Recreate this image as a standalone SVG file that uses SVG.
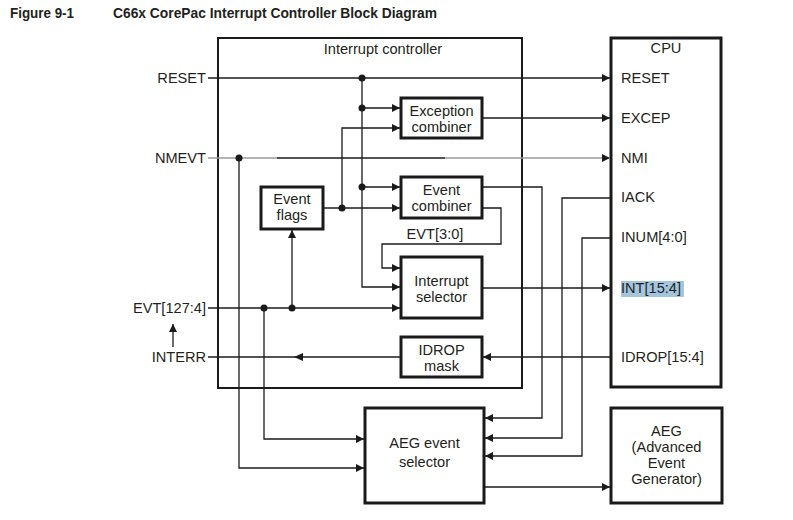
<svg xmlns="http://www.w3.org/2000/svg" width="793" height="520" viewBox="0 0 793 520">
<defs>
<marker id="arr" viewBox="0 0 10 10" refX="10" refY="5" markerWidth="9" markerHeight="8" orient="auto" markerUnits="userSpaceOnUse"><path d="M0,0 L10,5 L0,10 z" fill="#1a1a1a"/></marker>
</defs>
<style>
.t{font-family:"Liberation Sans",Arial,sans-serif;font-size:14.6px;fill:#231f20}
.c{text-anchor:middle}
.r{text-anchor:end}
.title{font-family:"Liberation Sans",Arial,sans-serif;font-size:14px;font-weight:bold;fill:#231f20}
.outer{fill:none;stroke:#1a1a1a;stroke-width:2}
.blk{fill:#fff;stroke:#1a1a1a;stroke-width:3}
.ln{fill:none;stroke:#1a1a1a;stroke-width:1.3}
.ln.a{marker-end:url(#arr)}
.dot{fill:#1a1a1a}
</style>
<rect width="793" height="520" fill="#fff"/>
<text class="title" x="10" y="18" textLength="64" lengthAdjust="spacingAndGlyphs">Figure 9-1</text>
<text class="title" x="113" y="18" textLength="324" lengthAdjust="spacingAndGlyphs">C66x CorePac Interrupt Controller Block Diagram</text>

<g id="interrupt-controller">
<rect class="outer" x="218" y="38" width="304" height="350"/>
<text class="t c" x="383" y="54">Interrupt controller</text>
</g>
<g id="cpu">
<rect class="outer" x="611" y="38" width="110" height="349" style="stroke-width:3"/>
<text class="t c" x="666" y="53">CPU</text>
<text class="t" x="621" y="83">RESET</text>
<text class="t" x="621" y="123">EXCEP</text>
<text class="t" x="621" y="163">NMI</text>
<text class="t" x="621" y="202">IACK</text>
<text class="t" x="621" y="242">INUM[4:0]</text>
<rect x="621" y="281" width="63" height="16" fill="#a3c5de"/>
<text class="t" x="621" y="293">INT[15:4]</text>
<text class="t" x="621" y="362">IDROP[15:4]</text>
</g>
<g id="exception-combiner">
<rect class="blk" x="401" y="98" width="81" height="40"/>
<text class="t c" x="441.5" y="116">Exception</text>
<text class="t c" x="441.5" y="132">combiner</text>
</g>
<g id="event-combiner">
<rect class="blk" x="401" y="177" width="81" height="41"/>
<text class="t c" x="441.5" y="195">Event</text>
<text class="t c" x="441.5" y="211">combiner</text>
</g>
<g id="event-flags">
<rect class="blk" x="261" y="187" width="62" height="42"/>
<text class="t c" x="292" y="204">Event</text>
<text class="t c" x="292" y="220">flags</text>
</g>
<g id="interrupt-selector">
<rect class="blk" x="401" y="257" width="81" height="61"/>
<text class="t c" x="441.5" y="286">Interrupt</text>
<text class="t c" x="441.5" y="302">selector</text>
</g>
<g id="idrop-mask">
<rect class="blk" x="401" y="337" width="81" height="40"/>
<text class="t c" x="441.5" y="355">IDROP</text>
<text class="t c" x="441.5" y="371">mask</text>
</g>
<g id="aeg-event-selector">
<rect class="blk" x="365" y="408" width="119" height="95"/>
<text class="t c" x="424.5" y="448">AEG event</text>
<text class="t c" x="424.5" y="467">selector</text>
</g>
<g id="aeg">
<rect class="blk" x="611" y="408" width="111" height="95"/>
<text class="t c" x="666.5" y="436">AEG</text>
<text class="t c" x="666.5" y="452">(Advanced</text>
<text class="t c" x="666.5" y="468">Event</text>
<text class="t c" x="666.5" y="484">Generator)</text>
</g>
<g id="signal-labels">
<text class="t r" x="206" y="83">RESET</text>
<text class="t r" x="206" y="163">NMEVT</text>
<text class="t r" x="206" y="313">EVT[127:4]</text>
<text class="t r" x="206" y="362">INTERR</text>
<text class="t c" x="435" y="239">EVT[3:0]</text>
</g>
<g id="connectors">
<path class="ln a" d="M208,78 H610"/>
<path class="ln a" d="M362,78 V287 H400"/>
<path class="ln a" d="M362,108 H400"/>
<path class="ln a" d="M362,187 H400"/>
<path class="ln a" d="M342,208 V128 H400"/>
<path class="ln a" d="M323,208 H400"/>
<path class="ln" d="M208,158 H277" style="stroke:#9a9a9a"/>
<path class="ln" d="M277,158 H445"/>
<path class="ln a" d="M445,158 H610" style="stroke:#9a9a9a"/>
<path class="ln a" d="M239,158 V468 H364"/>
<path class="ln a" d="M208,308 H400"/>
<path class="ln a" d="M292,308 V230"/>
<path class="ln a" d="M264,308 V439 H364"/>
<path class="ln" d="M401,357 H208"/>
<path d="M294,357 L303,353 L303,361 z" fill="#1a1a1a"/>
<path class="ln a" d="M611,357 H483"/>
<path class="ln a" d="M173,347 V324"/>
<path class="ln a" d="M482,118 H610"/>
<path class="ln a" d="M482,288 H610"/>
<path class="ln a" d="M482,187 H542 V418 H485"/>
<path class="ln a" d="M482,208 H501 V244 H382 V268 H400"/>
<path class="ln a" d="M611,198 H562 V438 H485"/>
<path class="ln a" d="M611,238 H582 V456 H485"/>
<path class="ln a" d="M484,487 H610"/>
<circle class="dot" cx="362" cy="78" r="3.5"/>
<circle class="dot" cx="362" cy="108" r="3.5"/>
<circle class="dot" cx="362" cy="187" r="3.5"/>
<circle class="dot" cx="342" cy="208" r="3.5"/>
<circle class="dot" cx="239" cy="158" r="3.5"/>
<circle class="dot" cx="264" cy="308" r="3.5"/>
<circle class="dot" cx="292" cy="308" r="3.5"/>
</g>
</svg>
